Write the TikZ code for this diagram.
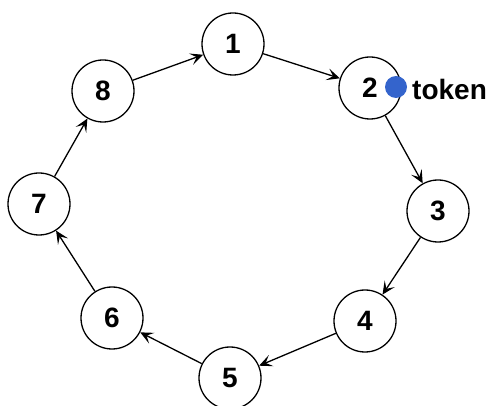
\documentclass[tikz,border=0pt]{standalone}
\usepackage{fontspec}
\setmainfont{Liberation Sans}
\usetikzlibrary{arrows.meta}
\begin{document}
\begin{tikzpicture}[x=1pt,y=-1pt,
  st/.style={circle,draw,line width=1.3pt,minimum size=62pt,inner sep=0pt,font=\fontsize{28}{32}\selectfont\bfseries},
  ar/.style={line width=1.3pt,-{Stealth[length=13pt,width=12pt,inset=6pt]}}]
\useasboundingbox (0,0) rectangle (488,406);
\node[st] (n1) at (233,44) {1};
\node[st] (n2) at (370,88) {2};
\node[st] (n3) at (438,211) {3};
\node[st] (n4) at (365,321) {4};
\node[st] (n5) at (230,378) {5};
\node[st] (n6) at (112,318) {6};
\node[st] (n7) at (39,204) {7};
\node[st] (n8) at (103,91) {8};
\fill[fill={rgb,255:red,52;green,100;blue,204}] (396,87) circle (11pt) coordinate (tok);
\node[anchor=west,inner sep=0pt,font=\fontsize{28}{32}\selectfont\bfseries] (tl) at (412,89) {token};
\draw[ar] (n1) -- (n2);
\draw[ar] (n2) -- (n3);
\draw[ar] (n3) -- (n4);
\draw[ar] (n4) -- (n5);
\draw[ar] (n5) -- (n6);
\draw[ar] (n6) -- (n7);
\draw[ar] (n7) -- (n8);
\draw[ar] (n8) -- (n1);
\end{tikzpicture}
\end{document}
